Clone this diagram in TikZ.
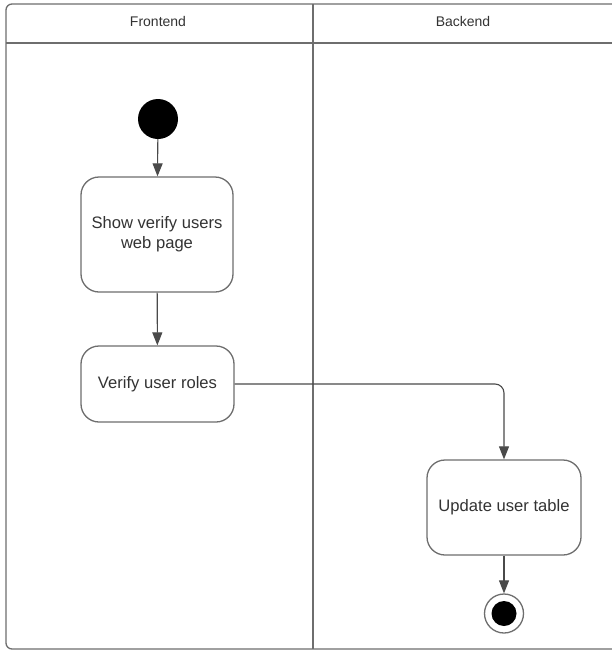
\documentclass[tikz,border=0pt]{standalone}
\usepackage{fontspec}
\setmainfont{Liberation Sans}
\usetikzlibrary{arrows.meta}
\definecolor{linegray}{HTML}{6E6E6E}
\definecolor{arrowgray}{HTML}{4A4A4A}
\definecolor{txtgray}{HTML}{333333}
\begin{document}
\begin{tikzpicture}[x=1pt,y=-1pt,
  lane/.style={draw=linegray, line width=1.3pt},
  actbox/.style={draw=linegray, line width=1.3pt, rounded corners=18pt, fill=white,
    text=txtgray, align=center, font=\fontsize{16.6}{20}\selectfont, inner sep=0pt},
  head/.style={text=txtgray, font=\fontsize{14}{17}\selectfont},
  flow/.style={draw=arrowgray, line width=1.1pt, -{Triangle[width=10pt,length=13pt]}},
  startdot/.style={circle, fill=black, minimum size=40pt, inner sep=0pt},
  enddot/.style={circle, draw=linegray, line width=1.3pt, fill=white, minimum size=39pt, inner sep=0pt},
]
\useasboundingbox (0,0) rectangle (612,651);
\fill[white] (0,0) rectangle (612,651);
% swimlane frame
\draw[lane, rounded corners=6pt] (640,4) -- (6,4) -- (6,649) -- (640,649);
\draw[lane] (6,43) -- (640,43);
\draw[lane] (313,4) -- (313,649);
\node[head] (hf) at (158,21) {Frontend};
\node[head] (hb) at (463,21) {Backend};
% nodes
\node[startdot] (start) at (158,119) {};
\node[actbox, minimum width=152pt, minimum height=115pt] (b1) at (157,234.5) {Show verify users\\web page};
\node[actbox, minimum width=153pt, minimum height=76pt] (b2) at (157.5,384) {Verify user roles};
\node[actbox, minimum width=154pt, minimum height=95pt] (b3) at (504,507.5) {Update user table};
\node[enddot] (end) at (504,613.5) {};
\fill[black] (end.center) circle (12.5pt);
% connectors
\draw[flow] (start) -- (b1);
\draw[flow] (b1) -- (b2);
\draw[flow, rounded corners=9pt] (b2.east) -| (b3.north);
\draw[flow] (b3) -- (end);
\end{tikzpicture}
\end{document}
